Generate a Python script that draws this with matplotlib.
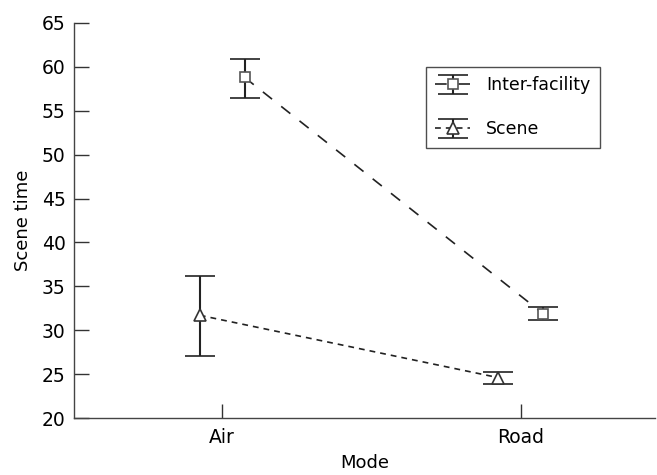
import matplotlib
matplotlib.use("Agg")
import matplotlib.pyplot as plt
import numpy as np
from matplotlib.legend_handler import HandlerErrorbar

categories = ["Air", "Road"]
inter_mean = [58.8, 31.9]
inter_low = [56.4, 31.2]
inter_high = [60.9, 32.6]
scene_mean = [31.7, 24.6]
scene_low = [27.1, 23.9]
scene_high = [36.2, 25.2]

plt.rcParams['font.family'] = ['DejaVu Sans']
fig = plt.figure(figsize=(6.57, 4.75), dpi=100)
ax = fig.add_axes([0.1126, 0.12, 0.884, 0.8316])

x = np.arange(1, len(categories) + 1)
off = 0.075
col = '#222222'

def yerr(m, lo, hi):
    m = np.array(m); return [m - np.array(lo), np.array(hi) - m]

ax.errorbar(x + off, inter_mean, yerr=yerr(inter_mean, inter_low, inter_high),
            fmt='s', mfc='white', mec='#555555', ms=7, mew=1.2,
            ecolor=col, elinewidth=1.5, capsize=11, capthick=1.5,
            linestyle=(0, (7, 7)), color=col, lw=1.2, label='Inter-facility')
ax.errorbar(x - off, scene_mean, yerr=yerr(scene_mean, scene_low, scene_high),
            fmt='^', mfc='white', mec='#333333', ms=8, mew=1.2,
            ecolor=col, elinewidth=1.5, capsize=11, capthick=1.5,
            linestyle=(0, (3.5, 3)), color=col, lw=1.2, label='Scene')

ax.set_xlim(0.503, 2.45)
ax.set_ylim(20, 65)
ax.set_yticks(np.arange(20, 66, 5))
ax.set_xticks(x)
ax.set_xticklabels(categories)
ax.tick_params(axis='y', direction='in', length=11, width=1, color='#333333', labelsize=13.5, pad=6)
ax.tick_params(axis='x', direction='in', length=10, width=1, color='#333333', labelsize=13.5, pad=7)
for s in ['top', 'right']:
    ax.spines[s].set_visible(False)
for s in ['left', 'bottom']:
    ax.spines[s].set_color('#444444')
    ax.spines[s].set_linewidth(1.0)
ax.set_xlabel('Mode', fontsize=13, labelpad=5)
ax.set_ylabel('Scene time', fontsize=13, labelpad=7)

leg = ax.legend(loc='upper right', bbox_to_anchor=(0.905, 0.889), frameon=True, fancybox=False,
                edgecolor='#222222', fontsize=12.5, labelspacing=1.5, borderpad=0.55,
                borderaxespad=0, handlelength=2.0, handletextpad=0.9,
                handler_map={type(ax.containers[0]): HandlerErrorbar(yerr_size=0.55)})
leg.get_frame().set_linewidth(1.0)

fig.savefig('out.png', dpi=100)
